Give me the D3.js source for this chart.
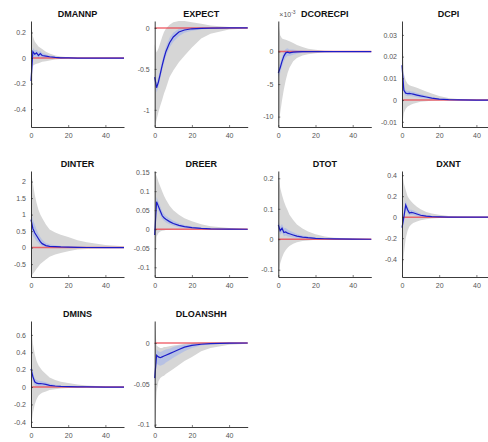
<!DOCTYPE html>
<html>
<head>
<meta charset="utf-8">
<script src="https://cdn.jsdelivr.net/npm/d3@7"></script>
<style>
  body { margin: 0; background: #fff; }
  svg { display: block; font-family: "Liberation Sans", Arial, sans-serif; }
</style>
</head>
<body>
<svg id="chart" width="488" height="442"></svg>
<script>
// horizons (periods after the shock)
const horizon = [0, 1, 2, 3, 4, 5, 6, 8, 10, 13, 16, 20, 25, 30, 40, 50];
const xTicks = [0, 20, 40];

// DMANNP
const dmannpMed = [-0.18, 0.05, 0.03, 0.04, 0.02, 0.035, 0.02, 0.015, 0.01, 0.005, 0.002, 0.001, 0, 0, 0, 0];
const dmannpHi90 = [0.29, 0.17, 0.13, 0.11, 0.09, 0.08, 0.07, 0.05, 0.035, 0.02, 0.012, 0.006, 0.003, 0.001, 0, 0];
const dmannpLo90 = [-0.54, -0.06, -0.05, -0.045, -0.04, -0.035, -0.03, -0.025, -0.02, -0.012, -0.008, -0.004, -0.002, -0.001, 0, 0];
const dmannpHi68 = [-0.14, 0.08, 0.06, 0.065, 0.05, 0.055, 0.04, 0.03, 0.02, 0.01, 0.005, 0.002, 0, 0, 0, 0];
const dmannpLo68 = [-0.22, 0.02, 0.005, 0.01, 0, 0.01, 0, 0, 0, 0, 0, 0, 0, 0, 0, 0];

// EXPECT
const expectMed = [-0.6, -0.73, -0.66, -0.56, -0.46, -0.37, -0.29, -0.18, -0.11, -0.05, -0.025, -0.01, -0.004, -0.002, 0, 0];
const expectHi90 = [-0.2, -0.3, -0.25, -0.18, -0.11, -0.05, -0.01, 0.04, 0.07, 0.085, 0.085, 0.07, 0.05, 0.03, 0.012, 0.005];
const expectLo90 = [-1.21, -1.12, -1.03, -0.95, -0.88, -0.8, -0.74, -0.6, -0.52, -0.42, -0.34, -0.24, -0.13, -0.07, -0.02, -0.008];
const expectHi68 = [-0.56, -0.67, -0.6, -0.5, -0.4, -0.31, -0.23, -0.12, -0.06, -0.01, 0, 0.005, 0.005, 0.003, 0.002, 0.001];
const expectLo68 = [-0.66, -0.79, -0.72, -0.62, -0.52, -0.43, -0.35, -0.24, -0.17, -0.1, -0.06, -0.035, -0.02, -0.01, -0.004, -0.002];

// DCORECPI (in units of 10^-3)
const dcorecpiMed = [-3.3, -2.5, -1.5, -0.7, -0.2, -0.1, -0.2, -0.1, -0.05, -0.02, 0, 0, 0, 0, 0, 0];
const dcorecpiHi90 = [4.7, 2.5, 2.0, 1.9, 1.8, 1.7, 1.6, 1.3, 1.0, 0.7, 0.45, 0.28, 0.14, 0.07, 0.02, 0.01];
const dcorecpiLo90 = [-11.6, -9.5, -7.5, -5.8, -4.4, -3.3, -2.5, -1.5, -1.0, -0.6, -0.4, -0.25, -0.12, -0.06, -0.02, -0.01];
const dcorecpiHi68 = [-2.6, -1.8, -0.8, 0, 0.4, 0.5, 0.3, 0.3, 0.2, 0.12, 0.08, 0.05, 0.02, 0.01, 0, 0];
const dcorecpiLo68 = [-4.0, -3.3, -2.3, -1.5, -0.9, -0.7, -0.7, -0.5, -0.35, -0.2, -0.12, -0.07, -0.03, -0.01, 0, 0];

// DCPI
const dcpiMed = [0.016, 0.0045, 0.0032, 0.003, 0.0031, 0.0029, 0.0027, 0.0023, 0.0019, 0.0014, 0.0009, 0.0004, 0.0002, 0.0001, 0, 0];
const dcpiHi90 = [0.0364, 0.012, 0.009, 0.0075, 0.0068, 0.0065, 0.0062, 0.0057, 0.005, 0.004, 0.003, 0.0019, 0.001, 0.0005, 0.0002, 0.0001];
const dcpiLo90 = [-0.0124, -0.006, -0.004, -0.003, -0.0025, -0.002, -0.0017, -0.0012, -0.0008, -0.0005, -0.0003, -0.0002, -0.0001, 0, 0, 0];
const dcpiHi68 = [0.018, 0.006, 0.0045, 0.0042, 0.0043, 0.004, 0.0038, 0.0033, 0.0028, 0.0021, 0.0014, 0.0007, 0.0003, 0.0002, 0, 0];
const dcpiLo68 = [0.014, 0.003, 0.002, 0.0018, 0.0019, 0.0018, 0.0016, 0.0013, 0.001, 0.0007, 0.0004, 0.0002, 0.0001, 0, 0, 0];

// DINTER
const dinterMed = [0.85, 0.58, 0.45, 0.36, 0.27, 0.18, 0.12, 0.06, 0.04, 0.03, 0.02, 0.012, 0.006, 0.003, 0.001, 0];
const dinterHi90 = [2.32, 1.95, 1.6, 1.35, 1.15, 1.0, 0.9, 0.7, 0.55, 0.46, 0.39, 0.32, 0.22, 0.16, 0.08, 0.04];
const dinterLo90 = [-0.89, -0.8, -0.72, -0.64, -0.57, -0.5, -0.45, -0.36, -0.28, -0.21, -0.16, -0.11, -0.06, -0.04, -0.015, -0.006];
const dinterHi68 = [1.1, 0.85, 0.7, 0.55, 0.42, 0.32, 0.24, 0.14, 0.1, 0.07, 0.05, 0.03, 0.015, 0.008, 0.003, 0.001];
const dinterLo68 = [0.6, 0.35, 0.28, 0.2, 0.14, 0.09, 0.05, 0.02, 0.01, 0.005, 0.003, 0.001, 0, 0, 0, 0];

// DREER
const dreerMed = [-0.015, 0.072, 0.06, 0.048, 0.036, 0.03, 0.026, 0.02, 0.015, 0.01, 0.007, 0.004, 0.002, 0.001, 0.0003, 0];
const dreerHi90 = [0.153, 0.14, 0.125, 0.112, 0.1, 0.088, 0.078, 0.062, 0.05, 0.038, 0.029, 0.021, 0.013, 0.008, 0.003, 0.0015];
const dreerLo90 = [-0.1255, -0.02, -0.01, -0.006, -0.004, -0.003, -0.002, -0.0015, -0.001, -0.0005, 0, 0, 0, 0, 0, 0];
const dreerHi68 = [-0.01, 0.085, 0.072, 0.06, 0.048, 0.04, 0.035, 0.028, 0.022, 0.016, 0.011, 0.007, 0.004, 0.002, 0.0007, 0.0003];
const dreerLo68 = [-0.02, 0.06, 0.048, 0.037, 0.027, 0.022, 0.018, 0.013, 0.009, 0.005, 0.003, 0.0015, 0.0005, 0, 0, 0];

// DTOT
const dtotMed = [0.047, 0.028, 0.036, 0.022, 0.024, 0.02, 0.018, 0.014, 0.01, 0.007, 0.005, 0.003, 0.0015, 0.001, 0.0003, 0];
const dtotHi90 = [0.224, 0.17, 0.145, 0.125, 0.108, 0.095, 0.08, 0.063, 0.048, 0.035, 0.025, 0.016, 0.009, 0.005, 0.002, 0.001];
const dtotLo90 = [-0.124, -0.08, -0.06, -0.045, -0.035, -0.028, -0.022, -0.015, -0.01, -0.006, -0.004, -0.002, -0.001, -0.0005, 0, 0];
const dtotHi68 = [0.06, 0.042, 0.05, 0.036, 0.037, 0.032, 0.029, 0.023, 0.017, 0.012, 0.009, 0.006, 0.003, 0.002, 0.0006, 0.0002];
const dtotLo68 = [0.035, 0.015, 0.022, 0.01, 0.012, 0.009, 0.008, 0.006, 0.004, 0.002, 0.001, 0.0005, 0, 0, 0, 0];

// DXNT
const dxntMed = [-0.1, 0.0, 0.115, 0.07, 0.04, 0.045, 0.042, 0.03, 0.018, 0.01, 0.006, 0.003, 0.001, 0, 0, 0];
const dxntHi90 = [0.44, 0.32, 0.26, 0.2, 0.17, 0.15, 0.13, 0.1, 0.075, 0.05, 0.035, 0.022, 0.012, 0.007, 0.002, 0.001];
const dxntLo90 = [-0.57, -0.35, -0.2, -0.13, -0.09, -0.07, -0.055, -0.04, -0.03, -0.02, -0.013, -0.008, -0.004, -0.002, -0.001, 0];
const dxntHi68 = [-0.05, 0.05, 0.16, 0.105, 0.07, 0.07, 0.066, 0.05, 0.032, 0.02, 0.012, 0.007, 0.003, 0.001, 0, 0];
const dxntLo68 = [-0.14, -0.05, 0.07, 0.035, 0.015, 0.02, 0.018, 0.012, 0.006, 0.002, 0.001, 0, 0, 0, 0, 0];

// DMINS
const dminsMed = [0.21, 0.12, 0.06, 0.045, 0.04, 0.04, 0.038, 0.03, 0.02, 0.012, 0.007, 0.004, 0.002, 0.001, 0, 0];
const dminsHi90 = [0.76, 0.5, 0.38, 0.3, 0.25, 0.22, 0.19, 0.15, 0.11, 0.08, 0.06, 0.045, 0.028, 0.017, 0.006, 0.002];
const dminsLo90 = [-0.46, -0.3, -0.2, -0.14, -0.1, -0.08, -0.065, -0.05, -0.035, -0.025, -0.017, -0.01, -0.006, -0.003, -0.001, 0];
const dminsHi68 = [0.27, 0.18, 0.1, 0.08, 0.072, 0.07, 0.066, 0.055, 0.04, 0.026, 0.016, 0.01, 0.005, 0.003, 0.001, 0];
const dminsLo68 = [0.15, 0.07, 0.02, 0.01, 0.008, 0.008, 0.008, 0.006, 0.004, 0.002, 0.001, 0, 0, 0, 0, 0];

// DLOANSHH
const dloanshhMed = [-0.043, -0.015, -0.017, -0.018, -0.017, -0.016, -0.015, -0.013, -0.011, -0.008, -0.005, -0.003, -0.0015, -0.0008, -0.0002, 0];
const dloanshhHi90 = [0.027, -0.003, -0.005, -0.006, -0.006, -0.005, -0.005, -0.004, -0.003, -0.002, -0.001, 0, 0.0005, 0.0006, 0.0004, 0.0002];
const dloanshhLo90 = [-0.103, -0.06, -0.047, -0.043, -0.041, -0.04, -0.038, -0.035, -0.032, -0.027, -0.022, -0.017, -0.01, -0.006, -0.002, -0.001];
const dloanshhHi68 = [-0.036, -0.008, -0.01, -0.011, -0.01, -0.009, -0.008, -0.007, -0.005, -0.003, -0.002, -0.001, 0, 0, 0, 0];
const dloanshhLo68 = [-0.05, -0.025, -0.027, -0.028, -0.027, -0.026, -0.024, -0.021, -0.018, -0.014, -0.01, -0.006, -0.003, -0.0015, -0.0005, -0.0002];

const panels = [
  { title: "DMANNP", med: dmannpMed, hi90: dmannpHi90, lo90: dmannpLo90, hi68: dmannpHi68, lo68: dmannpLo68, yTicks: [-0.4, -0.2, 0, 0.2] },
  { title: "EXPECT", med: expectMed, hi90: expectHi90, lo90: expectLo90, hi68: expectHi68, lo68: expectLo68, yTicks: [-1, -0.5, 0] },
  { title: "DCORECPI", med: dcorecpiMed, hi90: dcorecpiHi90, lo90: dcorecpiLo90, hi68: dcorecpiHi68, lo68: dcorecpiLo68, yTicks: [-10, -5, 0], exponent: "-3" },
  { title: "DCPI", med: dcpiMed, hi90: dcpiHi90, lo90: dcpiLo90, hi68: dcpiHi68, lo68: dcpiLo68, yTicks: [-0.01, 0, 0.01, 0.02, 0.03] },
  { title: "DINTER", med: dinterMed, hi90: dinterHi90, lo90: dinterLo90, hi68: dinterHi68, lo68: dinterLo68, yTicks: [-0.5, 0, 0.5, 1, 1.5, 2] },
  { title: "DREER", med: dreerMed, hi90: dreerHi90, lo90: dreerLo90, hi68: dreerHi68, lo68: dreerLo68, yTicks: [-0.1, -0.05, 0, 0.05, 0.1, 0.15] },
  { title: "DTOT", med: dtotMed, hi90: dtotHi90, lo90: dtotLo90, hi68: dtotHi68, lo68: dtotLo68, yTicks: [-0.1, 0, 0.1, 0.2] },
  { title: "DXNT", med: dxntMed, hi90: dxntHi90, lo90: dxntLo90, hi68: dxntHi68, lo68: dxntLo68, yTicks: [-0.4, -0.2, 0, 0.2, 0.4] },
  { title: "DMINS", med: dminsMed, hi90: dminsHi90, lo90: dminsLo90, hi68: dminsHi68, lo68: dminsLo68, yTicks: [-0.4, -0.2, 0, 0.2, 0.4, 0.6] },
  { title: "DLOANSHH", med: dloanshhMed, hi90: dloanshhHi90, lo90: dloanshhLo90, hi68: dloanshhHi68, lo68: dloanshhLo68, yTicks: [-0.1, -0.05, 0] },
];

const svg = d3.select("#chart");
const colLeft = [31, 154.7, 278.3, 402];
const rowTop = [21, 171, 321];
const plotW = 93;
const plotH = 106;

const x = d3.scaleLinear().domain([0, 50]).range([0, plotW]);

panels.forEach((p, i) => {
  const g = svg
    .append("g")
    .attr("transform", `translate(${colLeft[i % 4]},${rowTop[Math.floor(i / 4)]})`);

  // tight y limits like the original figure
  const y = d3
    .scaleLinear()
    .domain([d3.min(p.lo90), d3.max(p.hi90)])
    .range([plotH, 0]);

  const band = (lo, hi) =>
    d3.area()
      .x((d, k) => x(horizon[k]))
      .y0((d, k) => y(lo[k]))
      .y1((d, k) => y(hi[k]));

  g.append("path")
    .datum(horizon)
    .attr("d", band(p.lo90, p.hi90))
    .attr("fill", "#d6d6d6");

  g.append("path")
    .datum(horizon)
    .attr("d", band(p.lo68, p.hi68))
    .attr("fill", "#9fb0ee")
    .attr("opacity", 0.55);

  // zero line
  g.append("path")
    .datum(x.domain())
    .attr("d", d3.line().x((d) => x(d)).y(() => y(0)))
    .attr("stroke", "#ec3c48")
    .attr("stroke-opacity", 0.75)
    .attr("stroke-width", 1.5)
    .attr("fill", "none");

  g.append("path")
    .datum(p.med)
    .attr("d", d3.line().x((d, k) => x(horizon[k])).y((d) => y(d)))
    .attr("stroke", "#1c1cc8")
    .attr("stroke-width", 1.2)
    .attr("fill", "none");

  const yAxis = g.append("g").call(
    d3.axisLeft(y)
      .tickValues(p.yTicks)
      .tickFormat((d) => String(d))
      .tickSizeInner(-2)
      .tickSizeOuter(0)
      .tickPadding(5),
  );

  const xAxis = g
    .append("g")
    .attr("transform", `translate(0,${plotH})`)
    .call(
      d3.axisBottom(x)
        .tickValues(xTicks)
        .tickSizeInner(-2)
        .tickSizeOuter(0)
        .tickPadding(6),
    );

  [yAxis, xAxis].forEach((a) => {
    a.select(".domain").attr("stroke", "#262626").attr("stroke-width", 0.9);
    a.selectAll(".tick line").attr("stroke", "#262626").attr("stroke-width", 0.6);
    a.selectAll(".tick text")
      .attr("fill", "#555")
      .style("font-size", "7px")
      .style("font-family", '"Liberation Sans", Arial, sans-serif');
  });

  g.append("text")
    .attr("x", plotW / 2)
    .attr("y", -4)
    .attr("text-anchor", "middle")
    .attr("fill", "#111")
    .style("font-size", "9px")
    .style("font-weight", "bold")
    .text(p.title);

  if (p.exponent) {
    const t = g
      .append("text")
      .attr("x", 1)
      .attr("y", -4)
      .attr("fill", "#555")
      .style("font-size", "7px");
    t.append("tspan").text("\u00d710");
    t.append("tspan").attr("dy", -3).style("font-size", "5px").text(p.exponent);
  }
});
</script>
</body>
</html>
